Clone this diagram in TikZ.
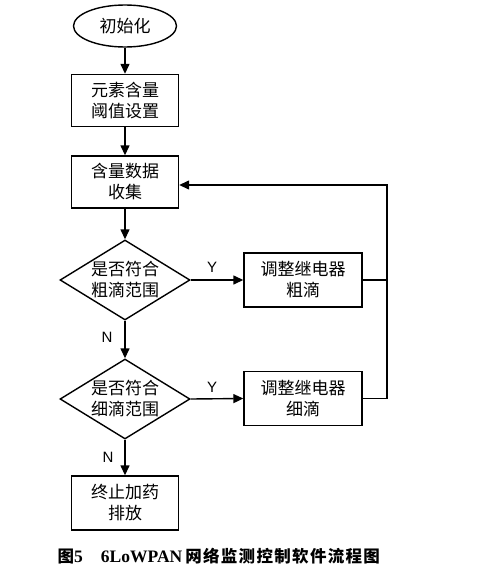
\documentclass[tikz,border=0pt]{standalone}
\usepackage{fontspec}
\setmainfont{Liberation Serif}
\setsansfont{Liberation Sans}
\newfontfamily\cjk{Noto Sans CJK SC}
\newfontfamily\cjkcap[LetterSpace=8]{Noto Sans CJK SC}
\usetikzlibrary{shapes.geometric,arrows.meta}
\begin{document}
\begin{tikzpicture}[x=1pt,y=-1pt,
  line width=1.4pt,
  cjkfont/.style={font=\cjk\fontsize{17}{21}\selectfont},
  box/.style={draw, cjkfont, align=center, inner sep=0pt, minimum width=107pt, minimum height=52pt},
  wbox/.style={box, minimum width=118pt, minimum height=54pt},
  term/.style={draw, ellipse, cjkfont, inner sep=0pt, minimum width=103pt, minimum height=42pt},
  dec/.style={draw, diamond, inner sep=0pt, minimum width=130pt, minimum height=80pt, aspect=1.625},
  dectext/.style={cjkfont, align=center},
  lab/.style={font=\sffamily\fontsize{15}{17}\selectfont},
  arr/.style={-{Triangle[length=10pt,width=9pt]}}
]
\useasboundingbox (0,0) rectangle (492,581);
\node[term] (start) at (125,26) {初始化};
\node[box] (b1) at (125,100.5) {元素含量\\阈值设置};
\node[box] (b2) at (125,182) {含量数据\\收集};
\node[dec] (d1) at (125,280) {};
\node[dectext] (d1t) at (d1) {是否符合\\粗滴范围};
\node[wbox] (r1) at (303,280) {调整继电器\\粗滴};
\node[dec] (d2) at (125,399) {};
\node[dectext] (d2t) at (d2) {是否符合\\细滴范围};
\node[wbox] (r2) at (303,398.5) {调整继电器\\细滴};
\node[box, minimum height=54pt] (b3) at (125,503) {终止加药\\排放};
\coordinate (c) at (387,185);
\draw[arr] (start) -- (b1);
\draw[arr] (b1) -- (b2);
\draw[arr] (b2) -- (d1);
\draw[arr] (d1.east) -- (r1.west);
\draw[arr] (d1.south) -- (d2.north);
\draw[arr] (d2.east) -- (r2.west);
\draw[arr] (d2.south) -- (b3.north);
\draw (r1.east) -- (r1.east -| c);
\draw[arr] (r2.east) -| (c) -- (c -| b2.east);
\node[lab] (y1) at (212,267) {Y};
\node[lab] (y2) at (212,387) {Y};
\node[lab] (n1) at (107,337) {N};
\node[lab] (n2) at (108,457) {N};
\node[anchor=west, inner sep=0pt] (cap) at (57,556) {{\cjk\bfseries\fontsize{16.5}{18}\selectfont 图}{\bfseries\fontsize{17.5}{18}\selectfont 5}\hspace{18pt}{\bfseries\fontsize{17.5}{18}\selectfont 6LoWPAN}\hspace{3pt}{\cjkcap\bfseries\fontsize{16.5}{18}\selectfont 网络监测控制软件流程图}};
\end{tikzpicture}
\end{document}
